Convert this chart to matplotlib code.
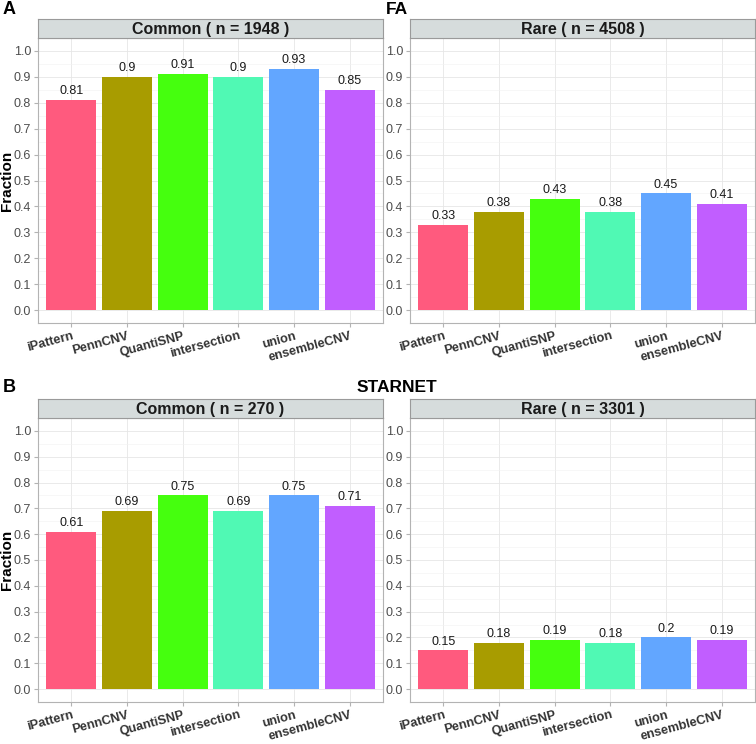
import matplotlib
matplotlib.use("Agg")
import matplotlib.pyplot as plt
from matplotlib.ticker import MultipleLocator

plt.rcParams['font.family'] = ['Liberation Sans', 'DejaVu Sans']

methods = ["iPattern", "PennCNV", "QuantiSNP", "intersection", "union", "ensembleCNV"]
colors = ["#FF5A7E", "#A89C00", "#45FF0E", "#50F9B4", "#62A6FF", "#C15EFF"]

fa_common = [0.81, 0.9, 0.91, 0.9, 0.93, 0.85]
fa_rare = [0.33, 0.38, 0.43, 0.38, 0.45, 0.41]
starnet_common = [0.61, 0.69, 0.75, 0.69, 0.75, 0.71]
starnet_rare = [0.15, 0.18, 0.19, 0.18, 0.2, 0.19]

W, H = 756, 744
fig = plt.figure(figsize=(W / 100, H / 100), dpi=100)


def px_axes(x0, y0, x1, y1):
    # pixel box (top-left origin) -> figure axes
    return fig.add_axes([x0 / W, 1 - y1 / H, (x1 - x0) / W, (y1 - y0) / H])


def panel(x0, y0, x1, y1, values, strip_text, ylabel=False):
    ax = px_axes(x0, y0, x1, y1)
    xs = list(range(len(values)))
    ax.bar(xs, values, width=0.9, color=colors, zorder=3)
    for x, v in zip(xs, values):
        ax.annotate(f"{v:g}", (x, v), xytext=(0, 2), textcoords="offset points",
                    ha="center", va="bottom", fontsize=9, color="#1a1a1a")
    ax.set_xlim(-0.6, len(values) - 0.4)
    ax.set_ylim(-0.05, 1.05)
    ax.yaxis.set_minor_locator(MultipleLocator(0.05))
    ax.set_yticks([i / 10 for i in range(11)])
    ax.set_yticklabels([f"{i / 10:.1f}" for i in range(11)])
    ax.set_xticks(xs)
    ax.set_xticklabels(methods, rotation=15, ha="right", va="top",
                       rotation_mode="anchor", fontweight="bold", fontsize=9.2,
                       color="#333333")
    ax.grid(True, which="major", color="#E6E6E6", lw=0.6, zorder=0)
    ax.grid(True, which="minor", axis="y", color="#F2F2F2", lw=0.4, zorder=0)
    ax.tick_params(axis="y", which="major", length=3, color="#B3B3B3",
                   labelsize=9, labelcolor="#4D4D4D", pad=2)
    ax.tick_params(axis="x", length=3, color="#B3B3B3", pad=2)
    ax.tick_params(which="minor", length=0)
    for s in ax.spines.values():
        s.set_color("#B3B3B3")
        s.set_linewidth(0.8)
    if ylabel:
        fig.text(7 / W, 1 - (y0 + y1) / 2 / H, "Fraction", rotation=90,
                 ha="center", va="center", fontweight="bold", fontsize=11)

    st = px_axes(x0, y0 - 19, x1, y0)
    st.set_facecolor("#D6DCDC")
    st.set_xticks([])
    st.set_yticks([])
    for s in st.spines.values():
        s.set_color("#9A9A9A")
        s.set_linewidth(0.8)
    st.text(0.5, 0.45, strip_text, transform=st.transAxes, ha="center",
            va="center", fontweight="bold", fontsize=11.5, color="#1a1a1a")
    return ax


panel(38, 38, 383, 323, fa_common, "Common ( n = 1948 )", ylabel=True)
panel(410, 38, 755, 323, fa_rare, "Rare ( n = 4508 )")
panel(38, 418, 383, 702, starnet_common, "Common ( n = 270 )", ylabel=True)
panel(410, 418, 755, 702, starnet_rare, "Rare ( n = 3301 )")

fig.text(3 / W, 1 - 9 / H, "A", fontweight="bold", fontsize=13, va="center")
fig.text(3 / W, 1 - 388 / H, "B", fontweight="bold", fontsize=13, va="center")
fig.text(397 / W, 1 - 9 / H, "FA", fontweight="bold", fontsize=12.5,
         va="center", ha="center")
fig.text(397 / W, 1 - 388 / H, "STARNET", fontweight="bold", fontsize=12.5,
         va="center", ha="center")

fig.savefig("out.png", dpi=100)
